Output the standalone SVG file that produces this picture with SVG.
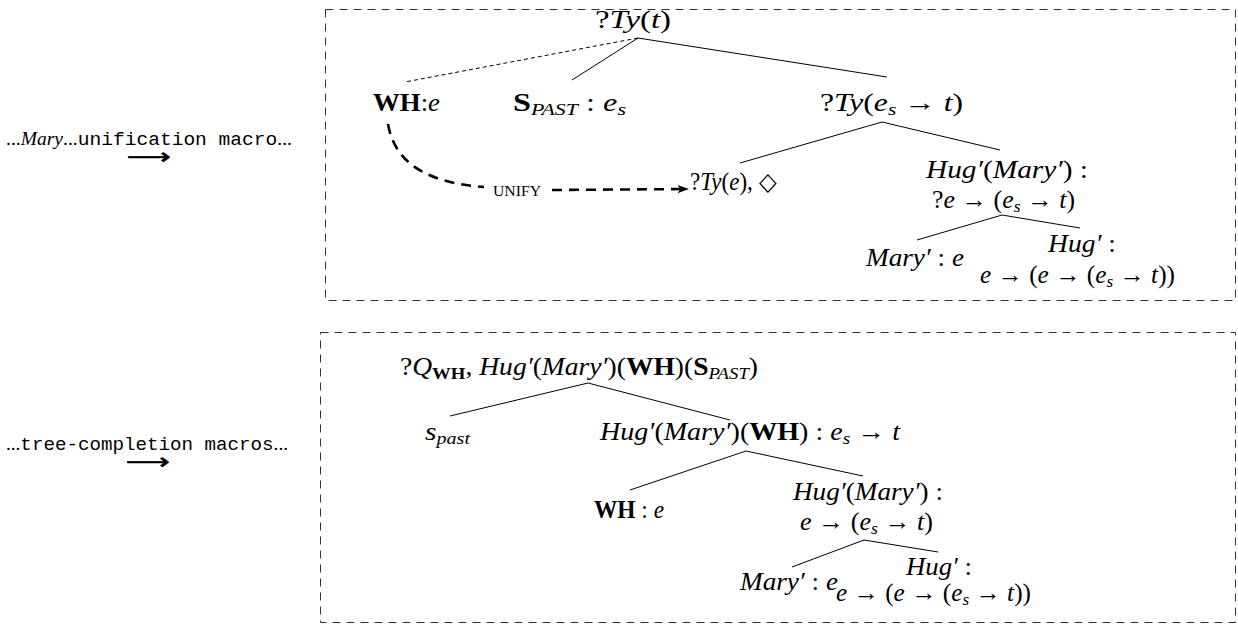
<svg xmlns="http://www.w3.org/2000/svg" width="1238" height="626" viewBox="0 0 1238 626">
<style>
.t{font-family:"Liberation Serif","Times New Roman",serif;font-size:25px;fill:#000}
.i{font-style:italic}
.b{font-weight:bold}
.sub{font-size:17px}
.m{font-family:"Liberation Mono","Courier New",monospace;font-size:19px}
.lbl{font-family:"Liberation Serif",serif;font-size:19px;fill:#000}
.arr{font-family:"DejaVu Sans",sans-serif;font-size:22px;fill:#000;stroke:#000;stroke-width:0.6}
.box{fill:none;stroke:#333;stroke-width:1;stroke-dasharray:8 6}
.edge{stroke:#000;stroke-width:1;fill:none}
.dedge{stroke:#000;stroke-width:1;fill:none;stroke-dasharray:4 3}
.unify{stroke:#000;stroke-width:2.6;fill:none;stroke-dasharray:10 7}
.sc{font-family:"Liberation Serif",serif;font-size:14px;fill:#000}
</style>
<defs>
<marker id="ah" viewBox="0 0 10 10" refX="9" refY="5" markerWidth="4.5" markerHeight="4.5" orient="auto" markerUnits="strokeWidth">
<path d="M0,1.5 L10,5 L0,8.5 L2.5,5 Z" fill="#000"/>
</marker>
</defs>

<g id="label1">
<text class="lbl" x="6" y="145" textLength="286" lengthAdjust="spacingAndGlyphs">...<tspan class="i">Mary</tspan>...<tspan class="m">unification macro</tspan>...</text>
<text class="arr" x="127" y="164" textLength="44" lengthAdjust="spacingAndGlyphs">⟶</text>
</g>
<g id="label2">
<text class="lbl" x="6" y="450" textLength="282" lengthAdjust="spacingAndGlyphs">...<tspan class="m">tree-completion macros</tspan>...</text>
<text class="arr" x="126" y="469" textLength="44" lengthAdjust="spacingAndGlyphs">⟶</text>
</g>

<g id="box1">
<rect class="box" x="325.5" y="9.5" width="910" height="291"/>
</g>
<g id="box2">
<rect class="box" x="320.5" y="332.5" width="915" height="290"/>
</g>

<g id="connectors">
<line class="dedge" x1="638" y1="38" x2="405" y2="82"/>
<line class="edge" x1="638" y1="38" x2="572" y2="80"/>
<line class="edge" x1="638" y1="38" x2="887" y2="77"/>
<line class="edge" x1="882" y1="122" x2="740" y2="163"/>
<line class="edge" x1="882" y1="122" x2="1000" y2="150"/>
<line class="edge" x1="1002" y1="215" x2="917" y2="240"/>
<line class="edge" x1="1002" y1="215" x2="1080" y2="228"/>
<path class="unify" d="M388,124 C395,165 430,183 484,187"/>
<line class="unify" x1="552" y1="190" x2="688" y2="189" marker-end="url(#ah)"/>
<line class="edge" x1="588" y1="383" x2="450" y2="416"/>
<line class="edge" x1="588" y1="383" x2="730" y2="420"/>
<line class="edge" x1="746" y1="451" x2="630" y2="490"/>
<line class="edge" x1="746" y1="451" x2="863" y2="476"/>
<line class="edge" x1="864" y1="540" x2="792" y2="567"/>
<line class="edge" x1="864" y1="540" x2="938" y2="552"/>
</g>

<g id="n-root1"><text class="t" x="595" y="28" textLength="76" lengthAdjust="spacingAndGlyphs">?<tspan class="i">Ty</tspan>(<tspan class="i">t</tspan>)</text></g>
<g id="n-wh1"><text class="t" x="373" y="111" textLength="67" lengthAdjust="spacingAndGlyphs"><tspan class="b">WH</tspan>:<tspan class="i">e</tspan></text></g>
<g id="n-spast1"><text class="t" x="513" y="111" textLength="113" lengthAdjust="spacingAndGlyphs"><tspan class="b">S</tspan><tspan class="i sub" dy="4">PAST</tspan><tspan dy="-4"> : </tspan><tspan class="i">e</tspan><tspan class="i sub" dy="4">s</tspan></text></g>
<g id="n-tyest1"><text class="t" x="820" y="111" textLength="143" lengthAdjust="spacingAndGlyphs">?<tspan class="i">Ty</tspan>(<tspan class="i">e</tspan><tspan class="i sub" dy="4">s</tspan><tspan dy="-4"> → </tspan><tspan class="i">t</tspan>)</text></g>
<g id="n-tye1"><text class="t" x="690" y="190" textLength="86" lengthAdjust="spacingAndGlyphs">?<tspan class="i">Ty</tspan>(<tspan class="i">e</tspan>), ◇</text></g>
<g id="n-unify"><text class="sc" x="493" y="196" textLength="48" lengthAdjust="spacingAndGlyphs">UNIFY</text></g>
<g id="n-hugmary1">
<text class="t" x="926" y="178" textLength="162" lengthAdjust="spacingAndGlyphs"><tspan class="i">Hug′</tspan>(<tspan class="i">Mary′</tspan>) :</text>
<text class="t" x="932" y="208" textLength="143" lengthAdjust="spacingAndGlyphs">?<tspan class="i">e</tspan> → (<tspan class="i">e</tspan><tspan class="i sub" dy="4">s</tspan><tspan dy="-4"> → </tspan><tspan class="i">t</tspan>)</text>
</g>
<g id="n-mary1"><text class="t" x="866" y="266" textLength="98" lengthAdjust="spacingAndGlyphs"><tspan class="i">Mary′</tspan> : <tspan class="i">e</tspan></text></g>
<g id="n-hug1">
<text class="t" x="1048" y="252" textLength="68" lengthAdjust="spacingAndGlyphs"><tspan class="i">Hug′</tspan> :</text>
<text class="t" x="980" y="283" textLength="195" lengthAdjust="spacingAndGlyphs"><tspan class="i">e</tspan> → (<tspan class="i">e</tspan> → (<tspan class="i">e</tspan><tspan class="i sub" dy="4">s</tspan><tspan dy="-4"> → </tspan><tspan class="i">t</tspan>))</text>
</g>

<g id="n-root2"><text class="t" x="400" y="375" textLength="358" lengthAdjust="spacingAndGlyphs">?<tspan class="i">Q</tspan><tspan class="b sub" dy="4">WH</tspan><tspan dy="-4">, </tspan><tspan class="i">Hug′</tspan>(<tspan class="i">Mary′</tspan>)(<tspan class="b">WH</tspan>)(<tspan class="b">S</tspan><tspan class="i sub" dy="4">PAST</tspan><tspan dy="-4">)</tspan></text></g>
<g id="n-spast2"><text class="t i" x="425" y="440" textLength="45" lengthAdjust="spacingAndGlyphs">s<tspan class="sub" dy="4">past</tspan></text></g>
<g id="n-hugwh2"><text class="t" x="600" y="440" textLength="300" lengthAdjust="spacingAndGlyphs"><tspan class="i">Hug′</tspan>(<tspan class="i">Mary′</tspan>)(<tspan class="b">WH</tspan>) : <tspan class="i">e</tspan><tspan class="i sub" dy="4">s</tspan><tspan dy="-4"> → </tspan><tspan class="i">t</tspan></text></g>
<g id="n-wh2"><text class="t" x="594" y="518" textLength="70" lengthAdjust="spacingAndGlyphs"><tspan class="b">WH</tspan> : <tspan class="i">e</tspan></text></g>
<g id="n-hugmary2">
<text class="t" x="793" y="500" textLength="150" lengthAdjust="spacingAndGlyphs"><tspan class="i">Hug′</tspan>(<tspan class="i">Mary′</tspan>) :</text>
<text class="t" x="800" y="530" textLength="133" lengthAdjust="spacingAndGlyphs"><tspan class="i">e</tspan> → (<tspan class="i">e</tspan><tspan class="i sub" dy="4">s</tspan><tspan dy="-4"> → </tspan><tspan class="i">t</tspan>)</text>
</g>
<g id="n-mary2"><text class="t" x="740" y="590" textLength="98" lengthAdjust="spacingAndGlyphs"><tspan class="i">Mary′</tspan> : <tspan class="i">e</tspan></text></g>
<g id="n-hug2">
<text class="t" x="906" y="575" textLength="66" lengthAdjust="spacingAndGlyphs"><tspan class="i">Hug′</tspan> :</text>
<text class="t" x="836" y="601" textLength="195" lengthAdjust="spacingAndGlyphs"><tspan class="i">e</tspan> → (<tspan class="i">e</tspan> → (<tspan class="i">e</tspan><tspan class="i sub" dy="4">s</tspan><tspan dy="-4"> → </tspan><tspan class="i">t</tspan>))</text>
</g>
</svg>
